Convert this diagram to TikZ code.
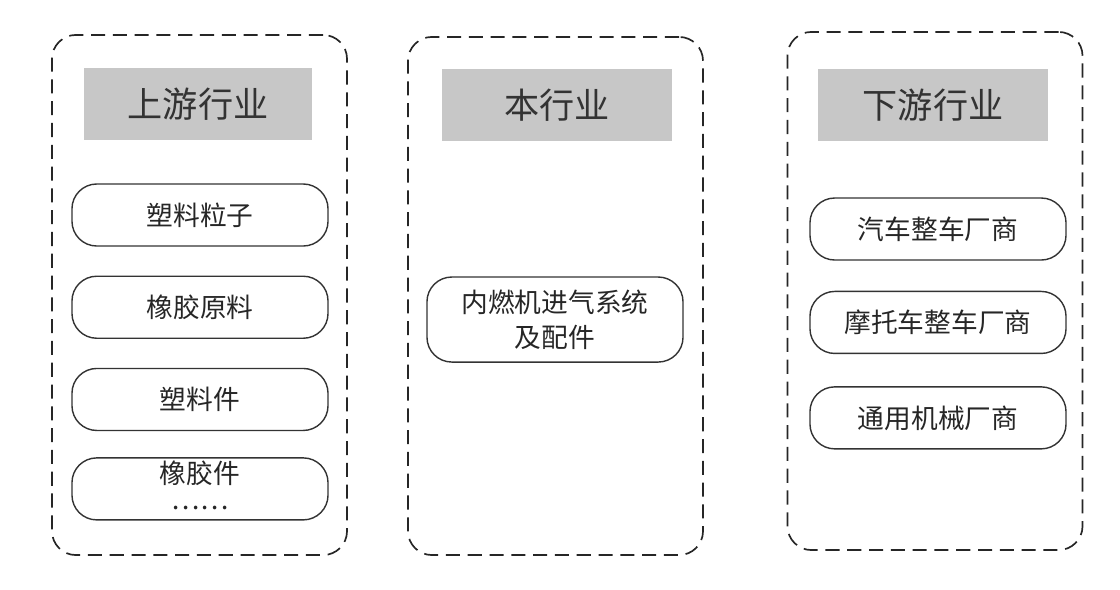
\documentclass[tikz,border=0pt]{standalone}
\usepackage{fontspec}
\setmainfont{Noto Sans CJK SC}
\usepackage{tikz}
\usetikzlibrary{positioning}

\begin{document}
\begin{tikzpicture}[x=0.025cm, y=-0.025cm,
      groupbox/.style={rectangle, draw=black!85, line width=1.2pt, dash pattern=on 10pt off 5.5pt, rounded corners=0.6cm, minimum width=7.375cm, minimum height=12.95cm},
      headbox/.style={rectangle, fill=black!22, text=black!80, font=\fontsize{25}{30}\selectfont, minimum width=5.7cm, minimum height=1.8cm},
      itembox/.style={rectangle, draw=black!80, line width=1pt, rounded corners=0.62cm, text=black!85, font=\fontsize{19}{25}\selectfont, minimum width=6.4cm, minimum height=1.55cm, align=center},
      ]
      \useasboundingbox (0,0) rectangle (1120,590);

      %Groups
      \node[groupbox, minimum height=13cm] (upstream)   at (199.5,295) {};
      \node[groupbox]                      (industry)   at (555.5,296) {};
      \node[groupbox]                      (downstream) at (935,291)   {};

      %Headers
      \node[headbox]                     (upstreamhead)   at (198,104) {上游行业};
      \node[headbox, minimum width=5.75cm] (industryhead)   at (557,105) {本行业};
      \node[headbox, minimum width=5.75cm] (downstreamhead) at (933,105) {下游行业};

      %Upstream items
      \node[itembox] (pellet)     [below=1.075cm of upstreamhead, xshift=0.05cm] {塑料粒子};
      \node[itembox] (rubberraw)  [below=0.72cm of pellet]     {橡胶原料};
      \node[itembox] (plasticpart)[below=0.72cm of rubberraw]  {塑料件};
      \node[itembox, inner ysep=0pt, font=\fontsize{19}{24}\selectfont]
                     (rubberpart) [below=0.65cm of plasticpart] {橡胶件\\\raisebox{0.3em}{……}};

      %Own industry
      \node[itembox, minimum height=2.125cm] (intake) [below=3.375cm of industryhead, xshift=-0.05cm] {内燃机进气系统\\及配件};

      %Downstream items
      \node[itembox] (carmaker)   [below=1.4cm of downstreamhead, xshift=0.125cm] {汽车整车厂商};
      \node[itembox] (motomaker)  [below=0.75cm of carmaker]   {摩托车整车厂商};
      \node[itembox] (machinery)  [below=0.8cm of motomaker]   {通用机械厂商};
\end{tikzpicture}
\end{document}
